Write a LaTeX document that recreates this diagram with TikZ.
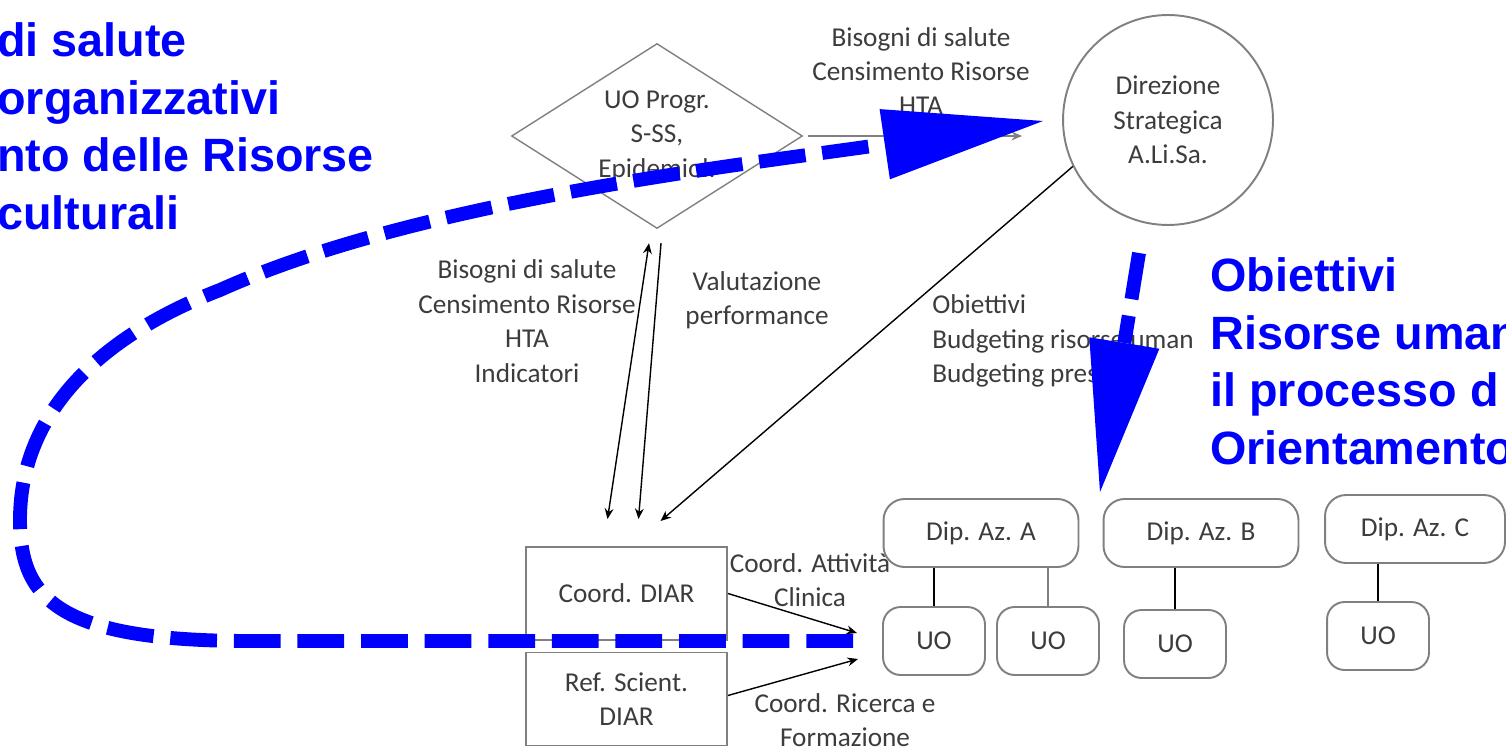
\documentclass[tikz,border=0pt]{standalone}
\usepackage{fontspec}
\setmainfont{Carlito}
\setsansfont{Liberation Sans}
\usepackage{tikz}
\usetikzlibrary{arrows.meta, positioning, shapes.geometric, calc}
\definecolor{myblue}{RGB}{0,0,255}
\definecolor{boxgray}{RGB}{128,128,128}
\definecolor{txtgray}{RGB}{60,60,60}

\begin{document}
\begin{tikzpicture}[x=0.02cm, y=-0.02cm,
    lbl/.style={font=\fontsize{15.5}{19.6}\selectfont, text=txtgray, align=center, inner sep=0pt},
    dipbox/.style={lbl, draw=boxgray, line width=1.1pt, rounded corners=12pt, minimum width=3.9cm, minimum height=1.36cm},
    uobox/.style={lbl, draw=boxgray, line width=1.1pt, rounded corners=10pt, minimum width=2.04cm, minimum height=1.36cm},
    diarbox/.style={lbl, draw=boxgray, line width=1.1pt, minimum width=4.02cm, minimum height=1.86cm},
    arr/.style={-{Stealth[length=6pt,width=5pt]}, line width=0.8pt},
    darr/.style={{Stealth[length=6pt,width=5pt]}-{Stealth[length=6pt,width=5pt]}, line width=0.8pt},
    bigtxt/.style={font=\sffamily\bfseries\fontsize{26.6}{32.9}\selectfont, text=myblue, align=left, inner sep=0pt},
    bluedash/.style={myblue, line width=7.9pt, dash pattern=on 26.6pt off 9.6pt}
]
    \useasboundingbox (0,0) rectangle (1506,753);
    \clip (0,0) rectangle (1506,753);

    % UO Progr. and Direzione
    \node[lbl, diamond, aspect=1.6, draw=boxgray, line width=0.8pt, minimum width=5.82cm, minimum height=3.7cm] (dia) at (657,136) {UO Progr.\\S-SS,\\Epidemiol.};
    \node[lbl, circle, draw=boxgray, line width=1.1pt, minimum size=4.2cm] (dir) at (1168,120) {Direzione\\Strategica\\A.Li.Sa.};
    \node[lbl] (lblhta) at (921,71) {Bisogni di salute\\Censimento Risorse\\HTA};

    % DIAR
    \node[diarbox] (diar) at (626.5,593.5) {Coord. DIAR};
    \node[diarbox] (ref) at (626.5,699) {Ref. Scient.\\DIAR};

    % Dipartimenti
    \node[dipbox] (dipA) at (981,533) {Dip. Az. A};
    \node[dipbox] (dipB) at (1201,533) {Dip. Az. B};
    \node[dipbox, minimum width=3.6cm] (dipC) at (1415,529) {Dip. Az. C};
    \node[uobox] (uo1) at (934,641) {UO};
    \node[uobox] (uo2) at (1048,641) {UO};
    \node[uobox] (uo3) at (1175,644) {UO};
    \node[uobox] (uo4) at (1378,636) {UO};
    \draw[line width=1pt] (uo1.north) -- (uo1.north |- dipA.south);
    \draw[line width=1.6pt, boxgray] (uo2.north) -- (uo2.north |- dipA.south);
    \draw[line width=1pt] (uo3.north) -- (uo3.north |- dipB.south);
    \draw[line width=1.4pt] (uo4.north) -- (uo4.north |- dipC.south);

    % Labels
    \node[lbl] (lblbis) at (527,321) {Bisogni di salute\\Censimento Risorse\\HTA\\Indicatori};
    \node[lbl] (lblval) at (757,300) {Valutazione\\performance};
    \node[lbl, align=left, anchor=west] (lblobi) at (932,341) {Obiettivi\\Budgeting risorse uman\\Budgeting pres};
    \node[lbl] (lblcli) at (810,580) {Coord. Attività\\Clinica};
    \node[lbl] (lblric) at (845,720) {Coord. Ricerca e\\Formazione};

    % Arrows
    \coordinate (clin) at (857,633);
    \coordinate (ric) at (858,659);
    \draw[arr, draw=boxgray, line width=1.5pt] ([xshift=3pt]dia.east) -- ($(dia.east -| dir.west)+(-40,0)$);
    \draw[arr] (dir.206) -- ($(diar.north)+(34,-25)$);
    \draw[darr] ($(dia.south)+(-8,14)$) -- ($(diar.north)+(-19,-27)$);
    \draw[arr] ($(dia.south)+(4,14)$) -- ($(diar.north)+(12,-27)$);
    \draw[arr] (diar.east) -- (clin);
    \draw[arr] ([yshift=2pt]ref.east) -- (ric);

    % Blue overlay
    \node[bigtxt, anchor=north west] (bluel) at (-3,22) {di salute\\organizzativi\\nto delle Risorse\\culturali};
    \node[bigtxt, anchor=north west] (bluer) at (1210,257) {Obiettivi\\Risorse uman\\il processo d\\Orientamento};
    \coordinate (loopstart) at (853,641);
    \coordinate (looptip) at (1043,121);
    \coordinate (downstart) at (1139,253);
    \coordinate (downtip) at (1100,492);
    \draw[bluedash, -{Triangle[length=3.2cm, width=1.42cm, line width=0pt]}] (loopstart) -- (250,641)
        .. controls (60,641) and (20,600) .. (20,520)
        .. controls (20,420) and (90,340) .. (220,290)
        .. controls (420,200) and (743,165) .. (looptip);
    \draw[bluedash, -{Triangle[length=3.02cm, width=1.42cm, line width=0pt]}] (downstart) -- (downtip);
\end{tikzpicture}
\end{document}
